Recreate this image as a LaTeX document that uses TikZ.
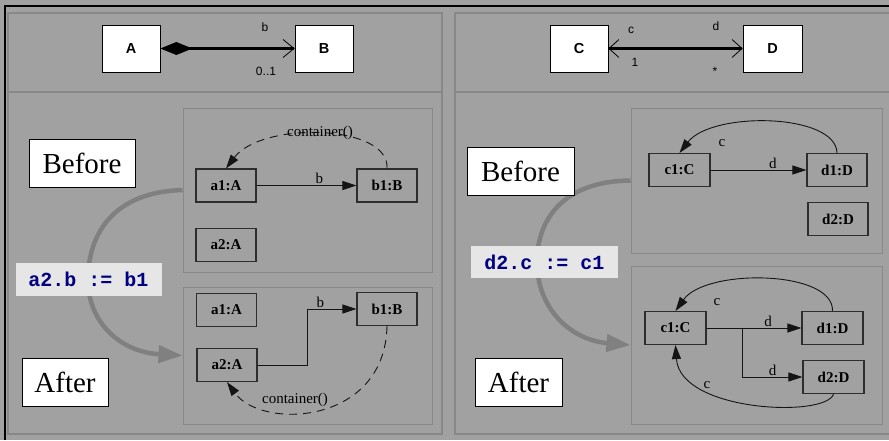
\documentclass[tikz,border=0pt]{standalone}
\usepackage{fontspec}
\setmainfont{Liberation Serif}
\setsansfont{Liberation Sans}
\setmonofont{Liberation Mono}
\usetikzlibrary{arrows.meta}

\definecolor{bggray}{RGB}{161,161,161}
\definecolor{panelgray}{RGB}{136,136,136}
\definecolor{flowgray}{RGB}{128,128,128}
\definecolor{nodeline}{RGB}{45,45,45}
\definecolor{edgeline}{RGB}{20,20,20}
\definecolor{codebg}{RGB}{230,230,230}
\definecolor{codeink}{RGB}{0,0,128}

\tikzset{
  panelframe/.style={draw=panelgray, line width=1.3pt},
  statebox/.style={draw=panelgray, line width=1pt},
  umlclass/.style={draw=black, fill=white, line width=0.7pt, inner sep=0pt,
    minimum height=47pt, font=\sffamily\bfseries\fontsize{14.5}{14.5}\selectfont},
  umllabel/.style={inner sep=0pt, font=\sffamily\fontsize{12}{12}\selectfont},
  obj/.style={draw=nodeline, line width=1.1pt, inner sep=0pt,
    minimum width=60pt, minimum height=33pt,
    font=\bfseries\fontsize{15}{15}\selectfont},
  objlabel/.style={inner sep=0pt, font=\fontsize{15}{15}\selectfont},
  phase/.style={draw=black, fill=white, line width=0.8pt, inner sep=0pt,
    minimum height=48pt, font=\fontsize{29}{29}\selectfont},
  code/.style={fill=codebg, inner sep=0pt, minimum width=146pt, minimum height=33pt,
    text=codeink, font=\ttfamily\bfseries\fontsize{20}{20}\selectfont},
  link/.style={draw=edgeline, line width=0.9pt, -{Triangle[length=14pt,width=9pt]}},
  backlink/.style={link, dash pattern=on 8pt off 6pt},
  flow/.style={draw=flowgray, line width=4.5pt, -{Triangle[length=24pt,width=17pt]}},
  assoc/.style={draw=black, line width=2.6pt},
}

\begin{document}
\begin{tikzpicture}[x=1pt,y=-1pt]
\useasboundingbox (0,0) rectangle (889,440);
\fill[bggray] (0,0) rectangle (889,440);

% outer window edges
\draw[black, line width=2pt] (5,440) -- (5,5.5) -- (889,5.5);

% two panels, each with a header strip
\draw[panelframe] (8,13) rectangle (442,434);
\draw[panelframe] (8,92) -- (442,92);
\draw[panelframe] (889,13) -- (455,13) -- (455,434) -- (889,434);
\draw[panelframe] (455,92) -- (889,92);

% ---------- left header: composition A -> B ----------
\node[umlclass, minimum width=58pt] (A) at (131,48.5) {A};
\node[umlclass, minimum width=58pt] (B) at (324,48.5) {B};
\draw[assoc, {Diamond[length=32pt,width=13pt]}-{Straight Barb[length=11pt,width=18pt,line width=0.8pt]}]
  (A.east) -- (B.west);
\node[umllabel] (Arole) at (265,27) {b};
\node[umllabel] (Amult) at (266,71) {0..1};

% ---------- right header: association C <-> D ----------
\node[umlclass, minimum width=58pt] (C) at (579,48.5) {C};
\node[umlclass, minimum width=59pt] (D) at (772.5,48.5) {D};
\draw[assoc, {Straight Barb[length=10pt,width=18pt,line width=0.8pt]}-{Straight Barb[length=10pt,width=18pt,line width=0.8pt]}]
  (C.east) -- (D.west);
\node[umllabel] (Crole) at (631,30) {c};
\node[umllabel] (Cmult) at (635,62) {1};
\node[umllabel] (Drole) at (716,26) {d};
\node[umllabel] (Dmult) at (715,71) {*};

% ---------- left body ----------
\node[statebox, minimum width=249pt, minimum height=164pt, inner sep=0pt] (bL) at (307.5,190) {};
\node[statebox, minimum width=249pt, minimum height=137pt, inner sep=0pt] (aL) at (307.5,355.5) {};

\draw[flow] (bL.west) .. controls (115,192) and (88,232) .. (88,280)
                      .. controls (88,322) and (120,352) .. (aL.west);
\node[code] (opL) at (88.5,279.5) {a2.b := b1};

\node[phase, minimum width=106pt] (beforeL) at (82,163) {Before};
\node[phase, minimum width=86pt] (afterL) at (65,382.5) {After};

% before: a1.b = b1
\node[obj] (a1) at (226,185.5) {a1:A};
\node[obj] (b1) at (387,185.5) {b1:B};
\node[obj] (a2) at (226,245) {a2:A};
\draw[link] (a1.east) -- node[objlabel, above=1pt, pos=0.63] (lb1) {b} (b1.west);
\draw[backlink] (b1.north) .. controls (390,124) and (262,121) .. (a1.north);
\node[objlabel] (cont1) at (320,133) {container()};

% after: a2.b = b1
\node[obj] (a1n) at (226.5,310) {a1:A};
\node[obj] (b1n) at (387,309) {b1:B};
\node[obj] (a2n) at (227,365) {a2:A};
\draw[link] (a2n.east) -- ++(50,0) |- node[objlabel, pos=0.63, above=1pt] (lb2) {b} (b1n.west);
\draw[backlink] (b1n.south) .. controls (385,425) and (262,430) .. (a2n.south);
\node[objlabel] (cont2) at (295,400) {container()};

% ---------- right body ----------
\node[statebox, minimum width=251pt, minimum height=145pt, inner sep=0pt] (bR) at (756.5,180.5) {};
\node[statebox, minimum width=251pt, minimum height=158pt, inner sep=0pt] (aR) at (756.5,345) {};

\draw[flow] (bR.west) .. controls (566,181) and (537,217) .. (537,262)
                      .. controls (537,308) and (570,340) .. (aR.west);
\node[code, minimum width=147pt, minimum height=32pt] (opR) at (544.5,262) {d2.c := c1};

\node[phase, minimum width=107pt] (beforeR) at (520.5,171) {Before};
\node[phase, minimum width=87pt] (afterR) at (518.5,382.5) {After};

% before: c1 <-> d1, d2 alone
\node[obj, minimum width=61pt] (c1) at (679.5,170) {c1:C};
\node[obj] (d1) at (837,170) {d1:D};
\node[obj] (d2) at (838,219) {d2:D};
\draw[link] (c1.east) -- node[objlabel, above=1pt, pos=0.65] (ld1) {d} (d1.west);
\draw[link] (d1.north) .. controls (836,113) and (712,111) .. (c1.north);
\node[objlabel] (lc1) at (722,143) {c};

% after: c1 <-> d1, c1 <-> d2
\node[obj, minimum width=61pt] (c1n) at (675.5,328) {c1:C};
\node[obj, minimum width=61pt] (d1n) at (832.5,328) {d1:D};
\node[obj, minimum width=61pt] (d2n) at (833.5,377) {d2:D};
\draw[link] (c1n.east) -- node[objlabel, above=1pt, pos=0.65] (ld2) {d} (d1n.west);
\draw[link] (c1n.east) -- ++(36,0) |- node[objlabel, pos=0.75, above=1pt] (ld3) {d} (d2n.west);
\draw[link] (d1n.north) .. controls (834,270) and (706,268) .. (c1n.north);
\node[objlabel] (lc2) at (717,302) {c};
\draw[link] (d2n.south) .. controls (826,418) and (680,412) .. (c1n.south);
\node[objlabel] (lc3) at (707,385) {c};
\end{tikzpicture}
\end{document}
